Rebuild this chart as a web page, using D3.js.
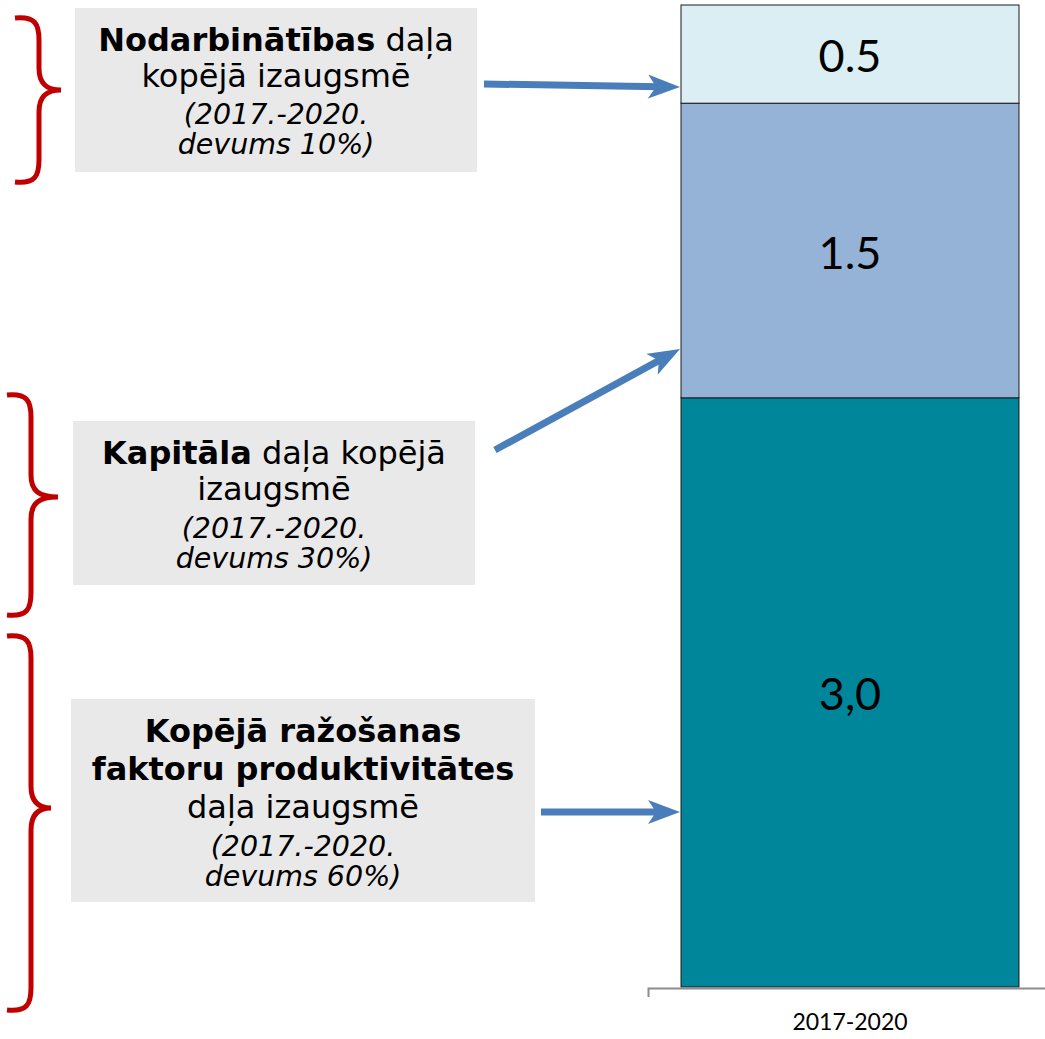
<!DOCTYPE html>
<html>
<head>
<meta charset="utf-8">
<script src="https://cdn.jsdelivr.net/npm/d3@7"></script>
<style>
  body { margin: 0; background: #fff; }
  svg { display: block; }
</style>
</head>
<body>
<svg></svg>
<script>
// data
let periods = ["2017-2020"];
let components = ["TFP", "Kapitāls", "Nodarbinātība"];
let values = [3.0, 1.5, 0.5];
let valueLabels = ["3,0", "1.5", "0.5"];
let colors = ["#00869a", "#95b3d7", "#dbeef4"];

// annotation text (bold part, regular part, italic lines)
let notes = [
  { lines: [[["Nodarbinātības", true], [" daļa", false]], [["kopējā izaugsmē", false]]],
    italic: ["(2017.-2020.", "devums 10%)"] },
  { lines: [[["Kapitāla", true], [" daļa kopējā", false]], [["izaugsmē", false]]],
    italic: ["(2017.-2020.", "devums 30%)"] },
  { lines: [[["Kopējā ražošanas", true]], [["faktoru produktivitātes", true]], [["daļa izaugsmē", false]]],
    italic: ["(2017.-2020.", "devums 60%)"] }
];

let width = 1045;
let height = 1039;

let svg = d3.select("svg").attr("width", width).attr("height", height);

// scales
let xScale = d3.scaleBand().domain(periods).range([648, 1052]).paddingInner(0.089).paddingOuter(0.089);
let yScale = d3.scaleLinear().domain([0, d3.sum(values)]).range([987, 5]);

// stack
let stacked = [];
let acc = 0;
values.forEach((v, i) => {
  stacked.push({ y0: acc, y1: acc + v, label: valueLabels[i], color: colors[i] });
  acc += v;
});

svg.selectAll("rect.seg")
  .data(stacked)
  .enter()
  .append("rect")
  .attr("class", "seg")
  .attr("x", xScale(periods[0]))
  .attr("width", xScale.bandwidth())
  .attr("y", (d) => yScale(d.y1))
  .attr("height", (d) => yScale(d.y0) - yScale(d.y1))
  .attr("fill", (d) => d.color)
  .attr("stroke", "#1a1a1a")
  .attr("stroke-width", 1);

svg.selectAll("text.val")
  .data(stacked)
  .enter()
  .append("text")
  .attr("class", "val")
  .attr("x", xScale(periods[0]) + xScale.bandwidth() / 2)
  .attr("y", (d) => (yScale(d.y0) + yScale(d.y1)) / 2 + 18)
  .attr("text-anchor", "middle")
  .attr("font-family", "Lato, 'Open Sans', sans-serif")
  .attr("font-size", 45)
  .attr("fill", "#000")
  .text((d) => d.label);

// x axis
let xAxis = d3.axisBottom(xScale).tickSizeInner(0).tickSizeOuter(9).tickPadding(26);
let gx = svg.append("g")
  .attr("transform", "translate(0," + 988 + ")")
  .call(xAxis);
gx.select(".domain").attr("stroke", "#8c8c8c").attr("stroke-width", 2);
gx.selectAll("text")
  .attr("font-family", "Lato, 'Open Sans', sans-serif")
  .attr("font-size", 23)
  .attr("fill", "#000");

// annotation boxes
let boxes = [
  { x: 75, y: 8, w: 402, h: 164, cx: 276, base: 51, lh: [36, 37, 30] },
  { x: 73, y: 421, w: 402, h: 164, cx: 274, base: 464, lh: [36, 38, 30] },
  { x: 71, y: 699, w: 464, h: 203, cx: 303, base: 742, lh: [38, 38, 38, 30] }
];

boxes.forEach((b, i) => {
  svg.append("rect")
    .attr("x", b.x).attr("y", b.y)
    .attr("width", b.w).attr("height", b.h)
    .attr("fill", "#e9e9e9");
  let n = notes[i];
  let y = b.base;
  let k = 0;
  n.lines.forEach((ln) => {
    let t = svg.append("text")
      .attr("x", b.cx).attr("y", y)
      .attr("text-anchor", "middle")
      .attr("font-family", "'DejaVu Sans', Verdana, sans-serif")
      .attr("font-size", 32)
      .attr("fill", "#000");
    ln.forEach((part) => {
      t.append("tspan")
        .attr("font-weight", part[1] ? "bold" : "normal")
        .text(part[0]);
    });
    y += b.lh[k++];
  });
  n.italic.forEach((s) => {
    svg.append("text")
      .attr("x", b.cx).attr("y", y)
      .attr("text-anchor", "middle")
      .attr("font-family", "'DejaVu Sans', Verdana, sans-serif")
      .attr("font-style", "italic")
      .attr("font-size", 28.5)
      .attr("fill", "#000")
      .text(s);
    y += b.lh[k++] || 30;
  });
});

// braces (curly ends hook outward)
let braces = [
  { x: 15, top: 18, tip: 90, bottom: 182, tipX: 61 },
  { x: 7, top: 395, tip: 497, bottom: 615, tipX: 58 },
  { x: 7, top: 636, tip: 808, bottom: 1010, tipX: 51 }
];
let bracePath = (b) => {
  let mx = b.x + 24;
  return "M" + b.x + "," + b.top +
    " C" + (mx - 4) + "," + (b.top - 2) + " " + mx + "," + (b.top + 6) + " " + mx + "," + (b.top + 22) +
    " L" + mx + "," + (b.tip - 22) +
    " C" + mx + "," + (b.tip - 6) + " " + (mx + 8) + "," + b.tip + " " + b.tipX + "," + b.tip +
    " C" + (mx + 8) + "," + b.tip + " " + mx + "," + (b.tip + 6) + " " + mx + "," + (b.tip + 22) +
    " L" + mx + "," + (b.bottom - 22) +
    " C" + mx + "," + (b.bottom - 6) + " " + (mx - 4) + "," + (b.bottom + 2) + " " + b.x + "," + b.bottom;
};
braces.forEach((b) => {
  svg.append("path")
    .attr("d", bracePath(b))
    .attr("fill", "none")
    .attr("stroke", "#c00000")
    .attr("stroke-width", 5);
});

// arrows
let barLeft = xScale(periods[0]);
let arrows = [
  { x1: 484, y1: 84, y2: 87 },
  { x1: 495, y1: 450, y2: 349 },
  { x1: 541, y1: 812, y2: 812 }
];
let defs = svg.append("defs");
defs.append("marker")
  .attr("id", "head")
  .attr("markerUnits", "userSpaceOnUse")
  .attr("viewBox", "0 0 32 24")
  .attr("markerWidth", 32).attr("markerHeight", 24)
  .attr("refX", 12).attr("refY", 12)
  .attr("orient", "auto")
  .append("path")
  .attr("d", "M0,0 L32,12 L0,24 L8,12 Z")
  .attr("fill", "#4a7ebb");

arrows.forEach((a) => {
  let x2 = barLeft - 1;
  let dx = x2 - a.x1, dy = a.y2 - a.y1;
  let len = Math.sqrt(dx * dx + dy * dy);
  let ex = x2 - dx / len * 20, ey = a.y2 - dy / len * 20;
  svg.append("line")
    .attr("x1", a.x1).attr("y1", a.y1)
    .attr("x2", ex).attr("y2", ey)
    .attr("stroke", "#4a7ebb")
    .attr("stroke-width", 7)
    .attr("marker-end", "url(#head)");
});
</script>
</body>
</html>
